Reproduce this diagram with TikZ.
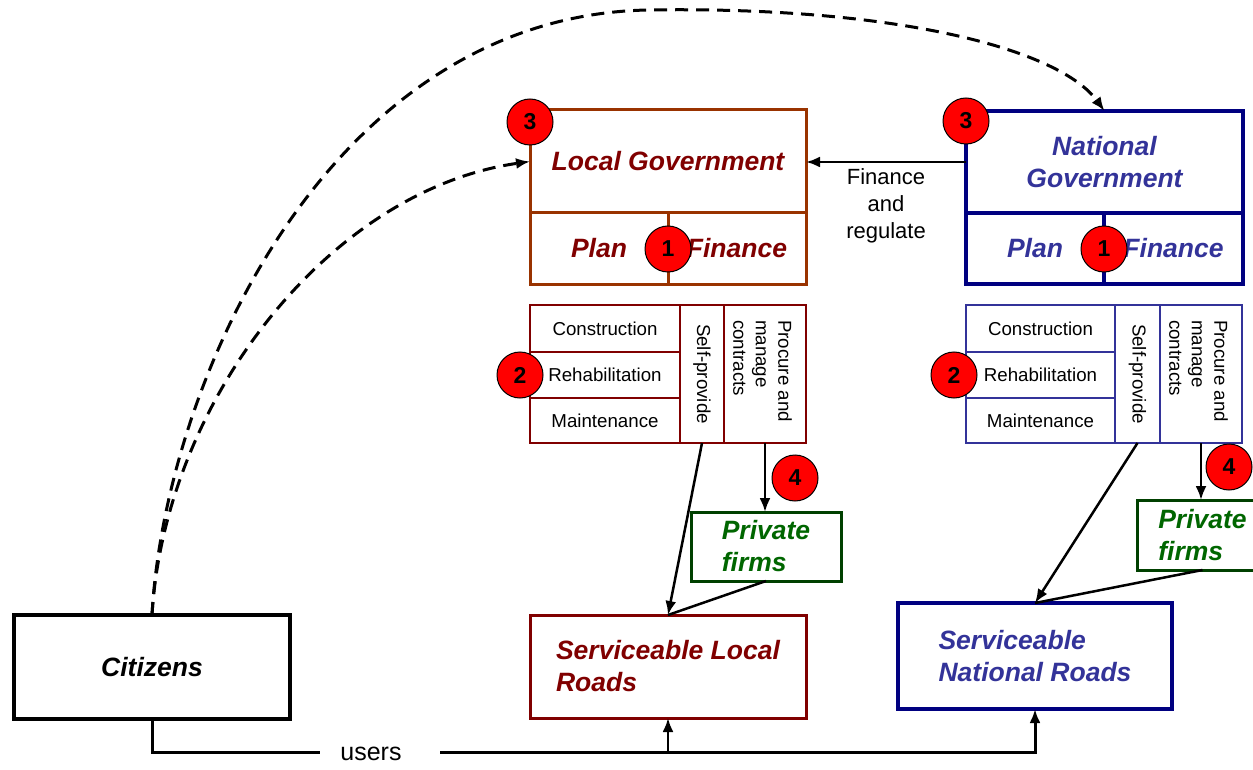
\documentclass[tikz,border=0pt]{standalone}
\usepackage{fontspec}
\setmainfont{Liberation Sans}
\usetikzlibrary{arrows.meta}
\definecolor{lgb}{RGB}{153,51,0}
\definecolor{maroonC}{RGB}{128,0,0}
\definecolor{navyC}{RGB}{0,0,128}
\definecolor{blueT}{RGB}{51,51,153}
\definecolor{greenB}{RGB}{0,64,0}
\definecolor{greenT}{RGB}{0,102,0}
\newcommand\fBI{\fontsize{26.5}{32}\selectfont\bfseries\itshape}
\newcommand\fSm{\fontsize{18.7}{22.5}\selectfont}
\newcommand\fMd{\fontsize{22}{27}\selectfont}
\newcommand\fUs{\fontsize{25}{27}\selectfont}
\newcommand\fBadge{\fontsize{23}{23}\selectfont\bfseries}
\begin{document}
\begin{tikzpicture}[x=1pt,y=-1pt,
  cell/.style={rectangle, inner sep=0pt, outer sep=0pt},
  badge/.style={circle, draw=black, line width=1pt, fill=red, minimum size=46pt, inner sep=0pt, font=\fBadge},
  conn/.style={draw=black, line width=2.5pt},
  arr/.style={conn, -{Latex[length=14pt,width=11pt]}},
  dcurve/.style={draw=black, line width=3pt, dash pattern=on 13pt off 8pt, -{Latex[length=14pt,width=11pt]}}
]
\useasboundingbox (0,0) rectangle (1253,770);

% Local government
\node[cell, draw=lgb, line width=3pt, minimum width=276pt, minimum height=103pt, font=\fBI, text=maroonC] (lg) at (668,161.5) {Local Government};
\node[cell, draw=lgb, line width=3pt, minimum width=138pt, minimum height=71pt, font=\fBI, text=maroonC] (lgplan) at (599,248.5) {Plan};
\node[cell, draw=lgb, line width=3pt, minimum width=138pt, minimum height=71pt, font=\fBI, text=maroonC] (lgfin) at (737,248.5) {Finance};

% Local sub-box
\node[cell, draw=maroonC, line width=2.5pt, minimum width=150pt, minimum height=47pt, font=\fSm] (lcon) at (605,328.5) {Construction};
\node[cell, draw=maroonC, line width=2.5pt, minimum width=150pt, minimum height=46pt, font=\fSm] (lreh) at (605,375) {Rehabilitation};
\node[cell, draw=maroonC, line width=2.5pt, minimum width=150pt, minimum height=45pt, font=\fSm] (lmai) at (605,420.5) {Maintenance};
\node[cell, draw=maroonC, line width=2.5pt, minimum width=44pt, minimum height=138pt] (lself) at (702,374) {};
\node[cell, draw=maroonC, line width=2.5pt, minimum width=82pt, minimum height=138pt] (lproc) at (765,374) {};
\node[rotate=-90, font=\fSm, inner sep=0pt] (lselfT) at (lself.center) {Self-provide};
\node[rotate=-90, font=\fSm, align=left, inner sep=0pt] (lprocT) at (762.5,371) {Procure and\\manage\\contracts};

% National government
\node[cell, draw=navyC, line width=3.5pt, minimum width=277pt, minimum height=102pt, font=\fBI, text=blueT, align=center] (ng) at (1104.5,162) {National\\Government};
\node[cell, draw=navyC, line width=3.5pt, minimum width=138pt, minimum height=71pt, font=\fBI, text=blueT] (ngplan) at (1035,248.5) {Plan};
\node[cell, draw=navyC, line width=3.5pt, minimum width=139pt, minimum height=71pt, font=\fBI, text=blueT] (ngfin) at (1173.5,248.5) {Finance};

% National sub-box
\node[cell, draw=blueT, line width=2.5pt, minimum width=149pt, minimum height=47pt, font=\fSm] (ncon) at (1040.5,328.5) {Construction};
\node[cell, draw=blueT, line width=2.5pt, minimum width=149pt, minimum height=46pt, font=\fSm] (nreh) at (1040.5,375) {Rehabilitation};
\node[cell, draw=blueT, line width=2.5pt, minimum width=149pt, minimum height=45pt, font=\fSm] (nmai) at (1040.5,420.5) {Maintenance};
\node[cell, draw=blueT, line width=2.5pt, minimum width=45pt, minimum height=138pt] (nself) at (1137.5,374) {};
\node[cell, draw=blueT, line width=2.5pt, minimum width=82pt, minimum height=138pt] (nproc) at (1201,374) {};
\node[rotate=-90, font=\fSm, inner sep=0pt] (nselfT) at (nself.center) {Self-provide};
\node[rotate=-90, font=\fSm, align=left, inner sep=0pt] (nprocT) at (1198.5,371) {Procure and\\manage\\contracts};

% Private firms
\node[cell, draw=greenB, line width=3pt, minimum width=150pt, minimum height=69pt, font=\fBI, text=greenT, align=left] (lpf) at (766,546.5) {Private\\firms};
\node[cell, draw=greenB, line width=3pt, minimum width=131pt, minimum height=70pt, font=\fBI, text=greenT, align=left] (npf) at (1202.5,535) {Private\\firms};

% Roads and citizens
\node[cell, draw=maroonC, line width=3pt, minimum width=276pt, minimum height=103pt, font=\fBI, text=maroonC, align=left] (lroads) at (668,666.5) {Serviceable Local\\Roads};
\node[cell, draw=navyC, line width=3.5pt, minimum width=274pt, minimum height=106pt, font=\fBI, text=blueT, align=left] (nroads) at (1035,656) {Serviceable\\National Roads};
\node[cell, draw=black, line width=3.5pt, minimum width=276pt, minimum height=104pt, font=\fBI] (citizens) at (152,667) {Citizens};

% Connectors
\draw[arr] (ng.west) -- (ng.west -| lg.east);
\node[font=\fMd, align=center] (finlabel) at (886,206) {Finance\\and\\regulate};

\draw[arr] (lself.south) -- (lroads.north);
\draw[conn] (lpf.south) -- (lroads.north);
\draw[arr] (lproc.south) -- (lproc.south |- lpf.north);
\draw[arr] (nself.south) -- (nroads.north);
\draw[conn] (npf.south) -- (nroads.north);
\draw[arr] (nproc.south) -- (nproc.south |- npf.north);

% users line
\coordinate (uL) at (320,752);
\coordinate (uR) at (440,752);
\draw[conn, line width=3pt] (citizens.south) |- (uL);
\draw[arr, line width=3pt] (uR) -| (nroads.south);
\draw[arr] (lroads.south |- uR) -- (lroads.south);
\node[font=\fUs, inner sep=0pt] (users) at (371,754) {users};

% dashed curves
\coordinate (peak) at (648,10);
\draw[dcurve] (citizens.north) .. controls (165,380) and (330,16) .. (peak) .. controls (900,6) and (1060,50) .. (ng.north);
\draw[dcurve] (citizens.north) .. controls (165,400) and (330,190) .. (lg.west);

% badges
\node[badge] (b3l) at (530,122) {3};
\node[badge] (b1l) at (668,249) {1};
\node[badge] (b2l) at (520,375) {2};
\node[badge] (b4l) at (795,478) {4};
\node[badge] (b3n) at (966,121) {3};
\node[badge] (b1n) at (1104,249) {1};
\node[badge] (b2n) at (954,375) {2};
\node[badge] (b4n) at (1229,467) {4};
\end{tikzpicture}
\end{document}
